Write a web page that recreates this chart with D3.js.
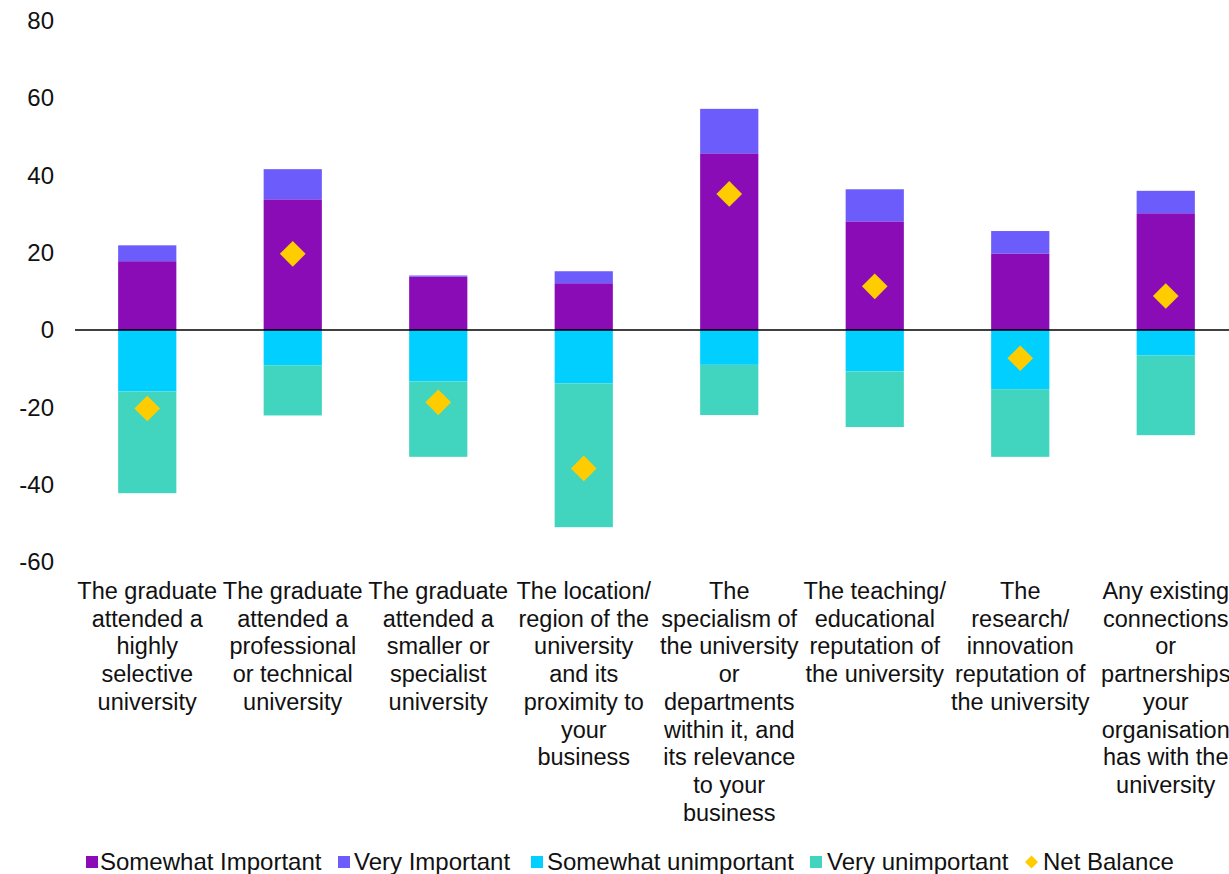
<!DOCTYPE html>
<html>
<head>
<meta charset="utf-8">
<script src="https://cdn.jsdelivr.net/npm/d3@7"></script>
<style>
  body { margin: 0; background: #fff; }
  text { font-family: "Liberation Sans", Arial, sans-serif; fill: #111; }
</style>
</head>
<body>
<div id="chart"></div>
<script>
// category labels, line breaks as in the original
var categories = [
    "The graduate|attended a|highly|selective|university",
    "The graduate|attended a|professional|or technical|university",
    "The graduate|attended a|smaller or|specialist|university",
    "The location/|region of the|university|and its|proximity to|your|business",
    "The|specialism of|the university|or|departments|within it, and|its relevance|to your|business",
    "The teaching/|educational|reputation of|the university",
    "The|research/|innovation|reputation of|the university",
    "Any existing|connections|or|partnerships|your|organisation|has with the|university"
];
var somewhatImportant   = [17.8, 33.8, 13.8, 12.1, 45.7, 28.1, 19.8, 30.2];
var veryImportant       = [4.1, 7.8, 0.3, 3.1, 11.5, 8.3, 5.8, 5.8];
var somewhatUnimportant = [-15.9, -9.1, -13.3, -13.8, -9.0, -10.7, -15.3, -6.6];
var veryUnimportant     = [-26.3, -13.0, -19.5, -37.2, -13.0, -14.4, -17.5, -20.6];
var netBalance          = [-20.3, 19.7, -18.7, -35.8, 35.2, 11.3, -7.3, 8.8];
var yTicks = [-60, -40, -20, 0, 20, 40, 60, 80];

var seriesNames = ["Somewhat Important", "Very Important", "Somewhat unimportant", "Very unimportant", "Net Balance"];
var colors = ["#8a0cb6", "#6b5cfb", "#00cfff", "#41d5c0", "#ffcc00"];

var width = 1229, height = 874;

var svg = d3.select("#chart")
    .append("svg")
    .attr("width", width)
    .attr("height", height);

var x = d3.scaleBand()
    .domain(d3.range(categories.length))
    .range([74.5, 1238.5])
    .paddingInner(0.6)
    .paddingOuter(0.3);

var y = d3.scaleLinear()
    .domain([-60, 80])
    .range([562, 20.7]);

// y tick labels, no axis line
svg.append("g")
    .attr("transform", "translate(54,0)")
    .call(d3.axisLeft(y).tickValues(yTicks).tickSize(0).tickPadding(0)
        .tickFormat(function(d) { return String(d); }))
    .call(function(g) { g.select(".domain").remove(); })
    .selectAll("text")
    .attr("font-size", 24)
    .attr("font-family", "Liberation Sans, Arial, sans-serif")
    .attr("fill", "#111");

// stacked segments: [start, end] pairs built from the arrays
var segments = [];
categories.forEach(function(c, i) {
    segments.push({i: i, s: 0, y0: 0, y1: somewhatImportant[i]});
    segments.push({i: i, s: 1, y0: somewhatImportant[i], y1: somewhatImportant[i] + veryImportant[i]});
    segments.push({i: i, s: 2, y0: 0, y1: somewhatUnimportant[i]});
    segments.push({i: i, s: 3, y0: somewhatUnimportant[i], y1: somewhatUnimportant[i] + veryUnimportant[i]});
});

svg.append("g")
    .selectAll("rect")
    .data(segments)
    .enter().append("rect")
    .attr("x", function(d) { return x(d.i); })
    .attr("width", x.bandwidth())
    .attr("y", function(d) { return y(Math.max(d.y0, d.y1)); })
    .attr("height", function(d) { return Math.abs(y(d.y0) - y(d.y1)); })
    .attr("fill", function(d) { return colors[d.s]; });

// zero line
svg.append("line")
    .attr("x1", 75).attr("x2", width)
    .attr("y1", y(0)).attr("y2", y(0))
    .attr("stroke", "#000")
    .attr("stroke-width", 1.5);

// net balance diamonds
var diamond = d3.symbol().type(d3.symbolSquare).size(330);
svg.append("g")
    .selectAll("path")
    .data(netBalance)
    .enter().append("path")
    .attr("d", diamond)
    .attr("transform", function(d, i) {
        return "translate(" + (x(i) + x.bandwidth() / 2) + "," + y(d) + ") rotate(45)";
    })
    .attr("fill", colors[4]);

// category labels
var labels = svg.append("g")
    .selectAll("text")
    .data(categories)
    .enter().append("text")
    .attr("text-anchor", "middle")
    .attr("font-size", 23.5)
    .attr("fill", "#111");

labels.each(function(d, i) {
    var t = d3.select(this);
    d.split("|").forEach(function(line, k) {
        t.append("tspan")
            .attr("x", x(i) + x.bandwidth() / 2)
            .attr("y", 599 + k * 27.7)
            .text(line);
    });
});

// legend
var markerX = [86, 338, 531, 810, 1025];
var textX = [100, 354, 547, 827, 1043];
var legend = svg.append("g");
seriesNames.forEach(function(name, k) {
    var g = legend.append("g").attr("transform", "translate(0,862)");
    if (k < 4) {
        g.append("rect").attr("x", markerX[k]).attr("y", -6).attr("width", 12).attr("height", 12).attr("fill", colors[k]);
    } else {
        g.append("path").attr("d", d3.symbol().type(d3.symbolSquare).size(85))
            .attr("transform", "translate(" + (markerX[k] + 6.5) + ",0) rotate(45)")
            .attr("fill", colors[k]);
    }
    g.append("text")
        .attr("x", textX[k])
        .attr("y", 8)
        .attr("font-size", 24)
        .attr("fill", "#111")
        .text(name);
});
</script>
</body>
</html>
